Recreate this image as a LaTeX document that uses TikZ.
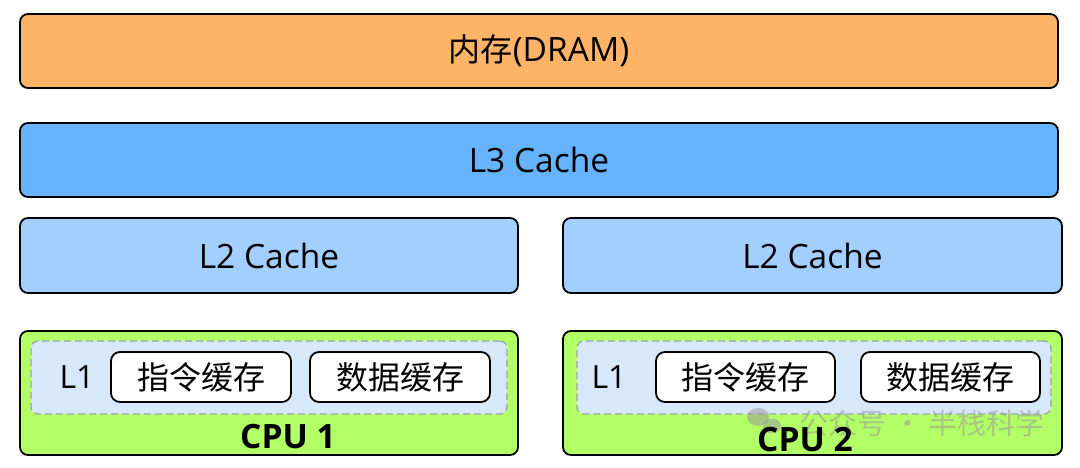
\documentclass[tikz,border=0pt]{standalone}
\usepackage{fontspec}
\setmainfont{Open Sans}
\newfontfamily\cjk{Noto Sans CJK SC}
\definecolor{dramc}{HTML}{FFB366}
\definecolor{lthree}{HTML}{66B3FF}
\definecolor{ltwo}{HTML}{A3CFFF}
\definecolor{cpuc}{HTML}{B3FF66}
\definecolor{lone}{HTML}{D6E8FA}
\definecolor{dashc}{HTML}{9AA3AC}
\definecolor{wmark}{HTML}{9A9A9A}
\begin{document}
\begin{tikzpicture}[x=1pt,y=-1pt,
  bigbox/.style={draw=black, line width=1.8pt, rounded corners=8pt, inner sep=0pt, font=\fontsize{33.5}{38}\selectfont},
  lonebox/.style={draw=dashc, dashed, dash pattern=on 7pt off 4pt, line width=1.3pt, rounded corners=7pt, fill=lone, inner sep=0pt},
  smallbox/.style={draw=black, line width=1.8pt, rounded corners=9pt, fill=white, inner sep=0pt, minimum width=180pt, minimum height=50pt, font=\fontsize{32}{36}\selectfont\cjk},
  lbl/.style={inner sep=0pt, font=\fontsize{32}{36}\selectfont},
  cpulbl/.style={inner sep=0pt, font=\fontsize{33.5}{38}\selectfont\bfseries}
]
\useasboundingbox (0,0) rectangle (1080,467);

\node[bigbox, fill=dramc, minimum width=1038pt, minimum height=74pt] (dram) at (539,51) {{\cjk\fontsize{32}{36}\selectfont 内存}(DRAM)};
\node[bigbox, fill=lthree, minimum width=1038pt, minimum height=74pt] (l3) at (539,160) {L3 Cache};
\node[bigbox, fill=ltwo, minimum width=498pt, minimum height=75pt] (l2a) at (269,255.5) {L2 Cache};
\node[bigbox, fill=ltwo, minimum width=499pt, minimum height=75pt] (l2b) at (812.5,255.5) {L2 Cache};

\node[bigbox, fill=cpuc, minimum width=498pt, minimum height=124pt] (cpua) at (269,393) {};
\node[bigbox, fill=cpuc, minimum width=499pt, minimum height=124pt] (cpub) at (812.5,393) {};

\node[lonebox, minimum width=476pt, minimum height=73pt] (l1a) at (269,377.5) {};
\node[lonebox, minimum width=474pt, minimum height=73pt] (l1b) at (814,377.5) {};

\node[lbl] (l1atxt) at (77,377) {L1};
\node[lbl] (l1btxt) at (609,377) {L1};

\node[smallbox] (insta) at (201,377) {指令缓存};
\node[smallbox] (dataa) at (400,377) {数据缓存};
\node[smallbox, minimum width=179pt] (instb) at (745.5,377) {指令缓存};
\node[smallbox, minimum width=179pt] (datab) at (950.5,377) {数据缓存};

\node[cpulbl] (cpuatxt) at (288,437) {CPU 1};

% watermark
\begin{scope}[opacity=0.55]
\fill[wmark] (758,417) ellipse (11pt and 9pt);
\fill[wmark] (772,426) ellipse (9pt and 7.5pt);
\node[inner sep=0pt, text=wmark, font=\fontsize{29}{32}\selectfont\cjk] (wm) at (922,423) {公众号 · 半栈科学};
\end{scope}

\node[cpulbl] (cpubtxt) at (805,440) {CPU 2};
\end{tikzpicture}
\end{document}
